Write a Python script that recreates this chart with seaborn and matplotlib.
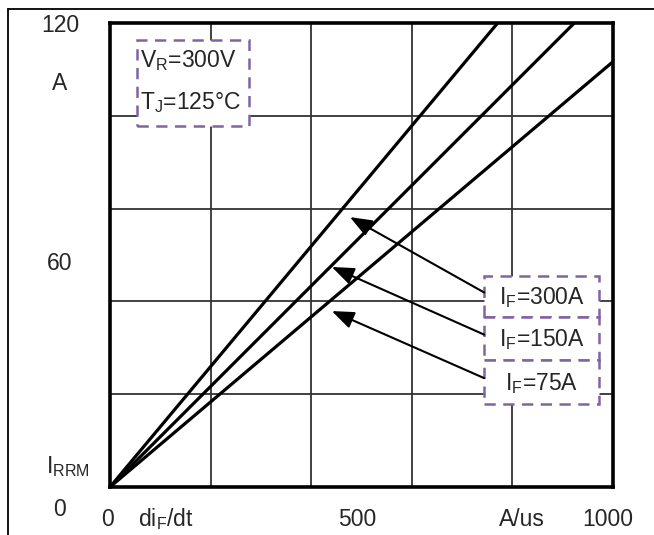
import matplotlib
matplotlib.use("Agg")
import matplotlib.pyplot as plt
from matplotlib.patches import Rectangle
from matplotlib.lines import Line2D
import seaborn as sns
import pandas as pd

# ---- data ----
didt = [0, 1000]                      # A/us
irrm_300 = [0, 155.7]                 # A, IF=300A
irrm_150 = [0, 130.0]                 # A, IF=150A
irrm_75 = [0, 110.0]                  # A, IF=75A
series_labels = ["I_F=300A", "I_F=150A", "I_F=75A"]
x_grid = [200, 400, 600, 800]
y_grid = [24, 48, 72, 96]
x_tick_labels = ["0", "di_F/dt", "500", "A/us", "1000"]
y_tick_labels = ["120", "A", "60", "I_RRM", "0"]
cond_labels = ["V_R=300V", "T_J=125°C"]
# arrow tips on the curves (x, y) in data units
arrow_tips_x = [477, 441, 441]
arrow_tips_y = [69.8, 56.9, 45.5]

df = pd.DataFrame({
    "didt": didt * 3,
    "irrm": irrm_300 + irrm_150 + irrm_75,
    "IF": sum([[s] * 2 for s in series_labels], []),
})

sns.set_style("white")
plt.rcParams["font.family"] = ["Liberation Sans", "DejaVu Sans"]
plt.rcParams["mathtext.fontset"] = "custom"
plt.rcParams["mathtext.rm"] = "Liberation Sans"
plt.rcParams["mathtext.it"] = "Liberation Sans"

W, H = 654, 535
fig = plt.figure(figsize=(W / 100, H / 100), dpi=100)
ax = fig.add_axes([110 / W, (H - 487) / H, 503 / W, 464 / H])

sns.lineplot(data=df, x="didt", y="irrm", hue="IF", ax=ax,
             palette=["black"] * 3, linewidth=2.3, legend=False, zorder=3)

ax.set_xlim(0, 1000)
ax.set_ylim(0, 120)
ax.set_xticks(x_grid)
ax.set_yticks(y_grid)
ax.set_xticklabels([])
ax.set_yticklabels([])
ax.tick_params(length=0)
ax.grid(True, color="#333333", linewidth=1.3)
ax.set_xlabel("")
ax.set_ylabel("")
for sp in ax.spines.values():
    sp.set_visible(True)
    sp.set_color("black")
    sp.set_linewidth(2.6)
    sp.set_zorder(6)


def mt(s):
    if "_" in s:
        base, rest = s.split("_", 1)
        sub = ""
        i = 0
        while i < len(rest) and rest[i].isupper():
            sub += rest[i]
            i += 1
        return r"$\mathregular{" + base + "_{" + sub + "}}$" + rest[i:]
    return s


purple = "#8064A2"
dash = (0, (4.5, 3))

# condition box
ax.add_patch(Rectangle((53.7, 93.4), 276 - 53.7, 115.6 - 93.4, facecolor="white",
                       edgecolor=purple, linestyle=dash, linewidth=1.8, zorder=4))
ax.text(60, 110.2, mt(cond_labels[0]), fontsize=16.5, ha="left", va="center", zorder=5)
ax.text(60, 99.3, mt(cond_labels[1]), fontsize=16.5, ha="left", va="center", zorder=5)

# IF boxes
box_y = [(44.0, 54.6), (32.8, 44.0), (21.5, 32.8)]
for lab, (y0, y1), tx, ty in zip(series_labels, box_y, arrow_tips_x, arrow_tips_y):
    ax.add_patch(Rectangle((744, y0), 973 - 744, y1 - y0, facecolor="white",
                           edgecolor=purple, linestyle=dash, linewidth=1.8, zorder=4))
    ax.text(858, (y0 + y1) / 2 - 0.3, mt(lab), fontsize=16.5, ha="center", va="center", zorder=5)
    ax.annotate("", xy=(tx, ty), xytext=(744, (y0 + y1) / 2 + 1.0),
                arrowprops=dict(arrowstyle="-|>,head_length=0.9,head_width=0.35",
                                color="black", lw=1.5, mutation_scale=15,
                                shrinkA=0, shrinkB=0), zorder=5)


def ftext(px, py, s, **kw):
    fig.text(px / W, 1 - py / H, mt(s), fontsize=16.5, ha="center", va="center", **kw)


# y labels
for s, py in zip(y_tick_labels, [26, 83, 263, 467, 510]):
    ftext(60 if s != "I_RRM" else 68, py, s)
# x labels
for s, px in zip(x_tick_labels, [107, 166, 357, 522, 608]):
    ftext(px, 519, s)

# outer frame
fig.add_artist(Line2D([8 / W, 1], [1 - 9 / H, 1 - 9 / H], color="black", lw=1.3,
                      transform=fig.transFigure))
fig.add_artist(Line2D([8 / W, 8 / W], [0, 1 - 9 / H], color="black", lw=1.3,
                      transform=fig.transFigure))

fig.savefig("out.png", dpi=100)
